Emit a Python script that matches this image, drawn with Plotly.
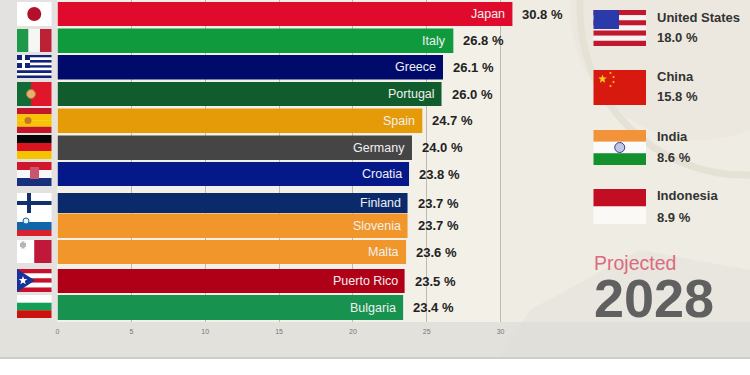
import math
import plotly.graph_objects as go

# ---------- data ----------
countries = ["Japan", "Italy", "Greece", "Portugal", "Spain", "Germany", "Croatia",
             "Finland", "Slovenia", "Malta", "Puerto Rico", "Bulgaria"]
values = [30.8, 26.8, 26.1, 26.0, 24.7, 24.0, 23.8, 23.7, 23.7, 23.6, 23.5, 23.4]
bar_colors = ["#e00b2c", "#0f9a3e", "#000a6b", "#115c2c", "#e59a08", "#454545", "#05188a",
              "#0b2a6b", "#f0962a", "#f0962a", "#b00018", "#17924f"]
side_countries = ["United States", "China", "India", "Indonesia"]
side_values = [18.0, 15.8, 8.6, 8.9]
tick_values = [0, 5, 10, 15, 20, 25, 30]
tick_labels = ["0", "5", "10", "15", "20", "25", "30"]

# ---------- layout geometry (page pixels) ----------
W, H = 750, 375
X0, PX_PER_UNIT = 57.5, 14.77
PLOT_RIGHT, PLOT_BOTTOM = 610, 322
bar_tops = [2, 28.5, 55, 82, 108.5, 135.5, 162, 193, 213.5, 240, 269, 295]
bar_bottoms = [26, 53, 79.5, 106, 133, 160, 186, 213, 238, 264, 293, 320]
flag_boxes = [(2, 26), (29, 52), (55, 78), (82, 106), (108, 133), (135, 159), (162, 186),
              (193, 217), (217, 236), (240, 263), (269, 292), (295, 318)]
side_flag_boxes = [(10, 46), (70, 105), (130, 165), (189, 224)]

centers = [(a + b) / 2 for a, b in zip(bar_tops, bar_bottoms)]
thick = [b - a for a, b in zip(bar_tops, bar_bottoms)]

shapes = []


def px(x):
    return x / W


def py(y):
    return 1 - y / H


def rect(x0, y0, x1, y1, color, layer="above", opacity=1):
    shapes.append(dict(type="rect", xref="paper", yref="paper", x0=px(x0), x1=px(x1),
                       y0=py(y0), y1=py(y1), fillcolor=color, line_width=0,
                       layer=layer, opacity=opacity))


def circle(cx, cy, r, color, layer="above", opacity=1, line=None, lw=0):
    shapes.append(dict(type="circle", xref="paper", yref="paper", x0=px(cx - r), x1=px(cx + r),
                       y0=py(cy - r), y1=py(cy + r), fillcolor=color, layer=layer, opacity=opacity,
                       line=dict(color=line or color, width=lw)))


def poly(pts, color, layer="above", opacity=1):
    path = "M" + " L".join(f"{px(x):.5f},{py(y):.5f}" for x, y in pts) + " Z"
    shapes.append(dict(type="path", xref="paper", yref="paper", path=path, fillcolor=color,
                       line_width=0, layer=layer, opacity=opacity))


def star(cx, cy, r, color):
    pts = []
    for i in range(10):
        rr = r if i % 2 == 0 else r * 0.42
        a = -math.pi / 2 + i * math.pi / 5
        pts.append((cx + rr * math.cos(a), cy + rr * math.sin(a)))
    poly(pts, color)


def hbands(x0, x1, y0, y1, cols):
    h = (y1 - y0) / len(cols)
    for i, c in enumerate(cols):
        rect(x0, y0 + i * h, x1, y0 + (i + 1) * h, c)


# ---------- background ----------
rect(0, 0, W, 358, "#ecebe6", "below")
rect(0, 0, 57, 358, "#e3e2e0", "below")
rect(57, 0, W, 358, "#efece3", "below")
rect(0, 322, W, 358, "#e2e1dc", "below")
rect(57, 0, 500, 322, "#f3f0e8", "below")
rect(0, 357, W, 359, "#cdcdcd", "below")
circle(745, 10, 165, "rgba(0,0,0,0)", "below", 0.35, "#d3cebe", 7)
circle(700, 10, 130, "#e7e3d6", "below", 0.35)
poly([(530, 310), (640, 250), (750, 270), (750, 357), (500, 357)], "#dedcd3", "below", 0.35)

# ---------- ranking flags ----------
FX0, FX1 = 17, 51.5
FW = FX1 - FX0
(a, b) = flag_boxes[0]
rect(FX0, a, FX1, b, "#ffffff")
circle((FX0 + FX1) / 2, (a + b) / 2, 7, "#b4102c")

(a, b) = flag_boxes[1]
rect(FX0, a, FX0 + FW / 3, b, "#1c9a4a")
rect(FX0 + FW / 3, a, FX0 + 2 * FW / 3, b, "#f6f6f4")
rect(FX0 + 2 * FW / 3, a, FX1, b, "#bb2236")

(a, b) = flag_boxes[2]
hbands(FX0, FX1, a, b, ["#12237a", "#ffffff"] * 4 + ["#12237a"])
rect(FX0, a, FX0 + 13, a + 13, "#12237a")
rect(FX0 + 5, a, FX0 + 8, a + 13, "#ffffff")
rect(FX0, a + 5, FX0 + 13, a + 8, "#ffffff")

(a, b) = flag_boxes[3]
rect(FX0, a, FX0 + 14, b, "#116b36")
rect(FX0 + 14, a, FX1, b, "#e0162b")
circle(FX0 + 14, (a + b) / 2, 4.5, "#e8b070", line="#b5752f", lw=1)

(a, b) = flag_boxes[4]
hbands(FX0, FX1, a, b, ["#c4162a", "#f6c400", "#f6c400", "#c4162a"])
circle(FX0 + 11, (a + b) / 2, 3.5, "#c8742a")

(a, b) = flag_boxes[5]
hbands(FX0, FX1, a, b, ["#050505", "#d9131f", "#f5c400"])

(a, b) = flag_boxes[6]
hbands(FX0, FX1, a, b, ["#d0182c", "#f8f8f8", "#16307e"])
rect(FX0 + 13, a + 5, FX0 + 22, a + 17, "#c9566a")

(a, b) = flag_boxes[7]
rect(FX0, a, FX1, b, "#ffffff")
rect(FX0, a + 8, FX1, a + 12, "#12306e")
rect(FX0 + 10, a + 0, FX0 + 14, a + 20, "#12306e")

(a, b) = flag_boxes[8]
rect(FX0, a, FX1, a + 5, "#ffffff")
rect(FX0, a + 5, FX1, a + 13, "#1265a8")
rect(FX0, a + 13, FX1, b, "#d9202c")
circle(FX0 + 9, a + 4, 3, "#e8eef2", line="#1265a8", lw=1)

(a, b) = flag_boxes[9]
rect(FX0, a, FX0 + FW / 2, b, "#ffffff")
rect(FX0 + FW / 2, a, FX1, b, "#c0183a")
rect(FX0 + 3, a + 3, FX0 + 9, a + 7, "#b9b5b5")
rect(FX0 + 4.5, a + 1.5, FX0 + 7.5, a + 8.5, "#b9b5b5")

(a, b) = flag_boxes[10]
hbands(FX0, FX1, a, b, ["#c8102e", "#ffffff", "#c8102e", "#ffffff", "#c8102e"])
poly([(FX0, a), (FX0 + 18, (a + b) / 2), (FX0, b)], "#16339a")
star(FX0 + 6, (a + b) / 2, 4.5, "#ffffff")

(a, b) = flag_boxes[11]
hbands(FX0, FX1, a, b, ["#ffffff", "#12a056", "#c9140e"])

# ---------- side flags ----------
SX0, SX1 = 593.5, 646
SW = SX1 - SX0
(a, b) = side_flag_boxes[0]
hbands(SX0, SX1, a, b, ["#c2182f", "#f6f4f2"] * 3 + ["#c2182f"])
rect(SX0, a, SX0 + 25.5, a + 19, "#2a3aa8")

(a, b) = side_flag_boxes[1]
rect(SX0, a, SX1, b, "#d7190f")
star(SX0 + 9, a + 9, 4.5, "#f4cf1a")
for dx, dy in [(17, 3), (20, 7), (20, 12), (17, 16)]:
    star(SX0 + dx, a + dy, 1.6, "#f4cf1a")

(a, b) = side_flag_boxes[2]
hbands(SX0, SX1, a, b, ["#f2933a", "#fbfbfb", "#12912c"])
circle((SX0 + SX1) / 2, (a + b) / 2, 5, "#c3c7e6", line="#303c8f", lw=1)

(a, b) = side_flag_boxes[3]
hbands(SX0, SX1, a, b, ["#c30d22", "#faf9f5"])

# ---------- annotations ----------
annotations = []
BAR_PAD = -5
for name, v, c in zip(countries, values, centers):
    annotations.append(dict(x=v, y=c, xref="x", yref="y", text=name, showarrow=False,
                            xanchor="right", xshift=BAR_PAD,
                            font=dict(family="Liberation Sans", size=12.5, color="#f0f0f0")))
    annotations.append(dict(x=v, y=c, xref="x", yref="y", text=f"{v:.1f} %", showarrow=False,
                            xanchor="left", xshift=8,
                            font=dict(family="Liberation Sans", size=13, color="#222222", weight="bold")))

side_y = [(17, 37), (76, 97), (136, 157), (196, 217)]
for name, v, (y1, y2) in zip(side_countries, side_values, side_y):
    for label, y in ((name, y1), (f"{v:.1f} %", y2)):
        annotations.append(dict(x=px(655), y=py(y), xref="paper", yref="paper", text=label,
                                showarrow=False, xanchor="left", yanchor="middle",
                                font=dict(family="Liberation Sans", size=13, color="#333333", weight="bold")))
annotations.append(dict(x=px(592), y=py(263), xref="paper", yref="paper", text="Projected",
                        showarrow=False, xanchor="left", yanchor="middle",
                        font=dict(family="Liberation Sans", size=19.5, color="#dc6a80")))
annotations.append(dict(x=px(592), y=py(298), xref="paper", yref="paper", text="2028",
                        showarrow=False, xanchor="left", yanchor="middle",
                        font=dict(family="Liberation Sans", size=54, color="#606060", weight="bold")))

# ---------- figure ----------
fig = go.Figure(go.Bar(
    x=values, y=centers, width=thick, orientation="h",
    marker=dict(color=bar_colors, line_width=0),
    hoverinfo="skip", cliponaxis=False,
))
fig.update_layout(
    width=W, height=H, margin=dict(l=0, r=0, t=0, b=0),
    paper_bgcolor="#ffffff", plot_bgcolor="rgba(0,0,0,0)",
    showlegend=False, shapes=shapes, annotations=annotations,
    xaxis=dict(domain=[px(X0), px(PLOT_RIGHT)], range=[0, (PLOT_RIGHT - X0) / PX_PER_UNIT],
               tickvals=tick_values, ticktext=tick_labels, automargin=False,
               tickfont=dict(family="Liberation Sans", size=7, color="#777777"),
               showgrid=True, gridcolor="#bdbab2", gridwidth=1, zeroline=False,
               showline=False, ticks="", ticklabelstandoff=4),
    yaxis=dict(domain=[py(PLOT_BOTTOM), 1], range=[PLOT_BOTTOM, 0], visible=False, automargin=False),
)
fig.write_html(
    "out.html",
    config={"displayModeBar": False},
    post_script="document.documentElement.style.margin='0';document.body.style.margin='0';"
                "document.body.style.overflow='hidden';"
                "var g=document.getElementById('{plot_id}');"
                "g.style.position='fixed';g.style.left='0';g.style.top='0';g.style.margin='0';",
)
